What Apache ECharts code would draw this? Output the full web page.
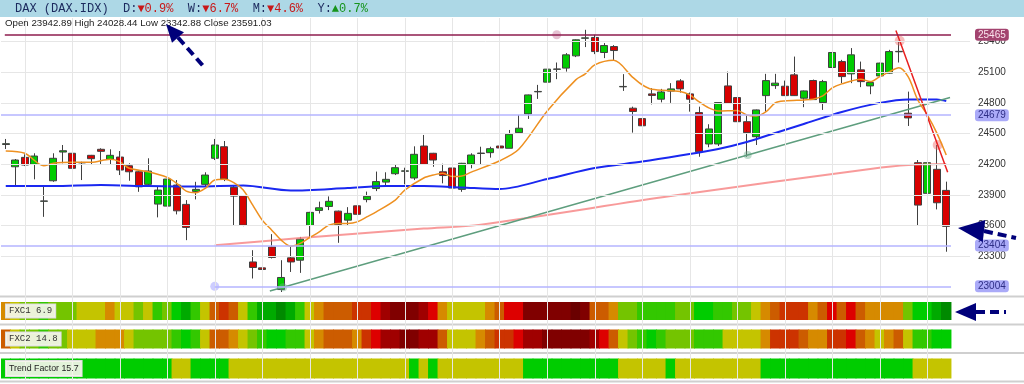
<!DOCTYPE html>
<html><head><meta charset="utf-8">
<script src="https://cdn.jsdelivr.net/npm/echarts@6/dist/echarts.min.js"></script>
<style>html,body{margin:0;padding:0;background:#fff}#c{width:1024px;height:384px}</style>
</head><body><div id="c"></div>
<script>
// ---------- DATA ----------
const opens = [24392,24174,24266,24198,23836,24037,24318,24306,24216,24286,24345,24247,24269,24184,24125,24002,23809,23789,23995,23806,
23933,24002,24257,24370,23973,23890,23243,23185,23390,22973,23283,23260,23600,23747,23786,23740,23652,23792,23853,23961,
24024,24106,24130,24064,24377,24306,24125,24162,23953,24201,24304,24312,24377,24355,24508,24691,24907,25002,25127,25139,
25259,25431,25439,25292,25350,24956,24747,24645,24887,24835,24914,25014,24887,24704,24397,24397,24965,24851,24615,24468,
24870,24968,24962,25073,24845,25018,24802,25145,25203,25083,25122,24965,25063,25090,25299,24698,24214,23914,24149,23942.89];
const closes = [24400,24240,24191,24279,23840,24257,24331,24159,24212,24253,24325,24286,24142,24125,23978,24132,23946,24054,23743,23581,
23953,24093,24387,24054,23887,23603,23189,23169,23287,23091,23243,23466,23728,23773,23836,23610,23718,23709,23885,24029,
24051,24165,24134,24296,24198,24240,24088,23966,24208,24289,24308,24351,24358,24492,24551,24877,24911,25129,25131,25269,
25416,25435,25301,25360,25311,24960,24715,24575,24872,24906,24936,24936,24835,24321,24544,24802,24796,24615,24508,24730,
25017,24992,24870,24870,24916,24831,25007,25292,25056,25269,25007,24998,25188,25301,25303,24652,23799,24214,23822,23591.03];
const lows = [24348,23995,24181,24051,23684,24027,24208,24135,24044,24191,24191,24191,24093,24037,23929,23978,23679,23743,23708,23456,
23855,23978,24240,24034,23603,23593,23081,23103,23277,22949,23145,23136,23488,23717,23750,23430,23603,23645,23826,23936,
23992,24093,24002,24044,24198,24174,24012,23963,23929,24159,24191,24263,24257,24355,24502,24642,24838,24992,25031,25105,
25247,25345,25276,25237,25213,24916,24508,24355,24784,24804,24799,24900,24713,24272,24365,24377,24794,24600,24272,24387,
24713,24936,24867,24866,24757,24828,24730,25105,24992,24992,24953,24884,25056,25086,25194,24573,23596,23809,23757,23342.88];
const highs = [24446,24250,24296,24306,23995,24306,24387,24316,24223,24290,24355,24345,24328,24208,24130,24257,23978,24110,24044,23848,
24027,24120,24446,24426,23995,23895,23358,23375,23515,23260,23390,23488,23733,23833,23884,23745,23779,23848,23931,24127,
24120,24198,24165,24374,24485,24310,24204,24181,24212,24306,24370,24370,24436,24534,24681,24880,24975,25132,25194,25286,
25420,25514,25465,25384,25364,25080,24762,24666,24943,24936,24992,25031,24900,24762,24590,24806,25105,24894,24681,24734,
25083,25083,25017,25252,24920,25027,25024,25335,25220,25335,25203,25002,25192,25318,25406,24909,24240,24247,24387,24028.44];

// moving averages: [candle index, value]
const maFast = [[0,24328],[2,24306],[4,24184],[5,24208],[7,24217],[9,24217],[11,24247],[12,24223],[13,24159],[15,24125],[17,24070],
[18,24012],[19,23936],[20,23920],[21,23963],[22,24044],[23,24051],[24,24018],[25,23946],[26,23799],[27,23652],[28,23554],[29,23456],
[30,23397],[31,23424],[32,23482],[33,23537],[34,23603],[35,23620],[36,23620],[37,23635],[38,23684],[39,23733],[41,23848],[42,23946],
[44,24064],[45,24093],[46,24110],[47,24078],[48,24083],[49,24122],[52,24233],[54,24345],[57,24720],[60,25024],[61,25083],[62,25171],
[64,25215],[66,25049],[67,24975],[68,24933],[71,24911],[72,24877],[73,24808],[74,24750],[75,24720],[77,24725],[78,24681],[79,24671],
[80,24710],[81,24799],[82,24818],[84,24828],[85,24835],[86,24867],[87,24946],[88,24985],[90,25031],[91,25007],[92,25056],[93,25102],
[94,25142],[95,25053],[96,24828],[97,24681],[98,24505],[99,24289]];
const maMid = [[0,23985],[5,23985],[10,23995],[15,23985],[20,23980],[25,23990],[30,23941],[36,23966],[40,23985],[44,23985],[48,23971],
[52,23956],[57,24054],[62,24162],[67,24225],[71,24284],[75,24348],[78,24416],[81,24505],[84,24593],[88,24710],[92,24799],[95,24833],
[98,24833],[99,24818]];
const maSlow = [[22,23407],[31,23476],[44,23569],[50,23608],[70,23887],[91,24152],[95,24191],[99,24201]];

// drawn trend lines (anchor points) and levels
const trendUp = [[27.8,22958],[29.2,22995],[78.1,24289],[99.4,24852]];
const trendUpAnchors = [[29.2,22995],[78.1,24289]];
const trendDown = [[93.7,25508],[94.1,25406],[98.1,24387],[99.15,24120]];
const trendDownAnchors = [[94.1,25406],[98.1,24387]];
const levelHigh = 25465, levelHighAnchor = 58;
const levelsBlue = [24679, 23404];
const levelLow = 23004, levelLowStart = 22;

const yTicks = [23300,23600,23900,24200,24500,24800,25100,25400];
const vGrid = [2,7,12,17,22,27,32,37,42,47,52,57,62,67,72,77,82,87,92,97];

// indicator strips (score per candle)
const fxc1 = [-1,0,1,1,2,1,1,1,0,0,0,-1,0,0,1,0,2,1,3,4,2,0,-2,-3,-2,0,2,4,4,5,4,2,0,-1,-2,-2,-2,-3,-3,-4,
-5,-6,-6,-6,-5,-4,-1,0,0,0,0,-1,-2,-4,-4,-6,-6,-6,-6,-6,-7,-6,-2,-2,-1,1,1,2,2,2,2,1,1,3,3,2,2,1,1,0,
-1,-2,-3,-3,-3,-1,-2,-4,-2,-4,-2,-1,-1,-1,-1,1,3,3,4,5];
const fxc2 = [-2,0,1,1,2,1,1,0,0,0,-1,-1,-1,0,1,1,1,1,2,3,2,0,-2,-2,-1,0,1,2,3,3,2,2,0,-1,-2,-2,-2,-1,-3,-4,
-5,-5,-6,-6,-5,-5,-2,0,0,0,-1,-2,-3,-3,-4,-5,-5,-6,-6,-6,-6,-6,-5,-4,-2,0,1,2,3,2,1,1,1,2,2,2,0,0,0,0,
-1,-3,-3,-3,-2,-1,-1,-3,-3,-4,-2,-1,0,-1,-2,0,2,2,3,3];
const trendFactor = [1,1,1,1,1,1,1,1,1,1,1,1,1,1,1,1,1,1,0,0,1,1,1,1,0,0,0,0,0,0,0,0,0,0,0,0,0,0,0,0,
0,0,0,1,0,1,0,0,0,0,0,0,0,0,0,1,1,1,1,1,1,1,1,1,1,0,0,0,0,0,1,0,0,0,0,0,0,0,0,0,
1,1,1,1,1,1,1,1,1,1,1,1,1,1,1,1,0,0,0,0];
const fxc1Last = 6.9, fxc2Last = 14.8, tfLast = 15.7;

const title = 'DAX (DAX.IDX)';
const changes = [['D', -0.9], ['W', -6.7], ['M', -4.6], ['Y', 0.7]];

// ---------- STYLE ----------
const NCAT = 102;
const categories = Array.from({length: NCAT}, (_, i) => 'D' + (i + 1));
const scoreColors = {'-7':'#6a0000','-6':'#800000','-5':'#a00000','-4':'#dd0000','-3':'#cc3300','-2':'#cc5c00',
  '-1':'#d68a00','0':'#c4c400','1':'#74c400','2':'#33c800','3':'#00cc00','4':'#00aa00','5':'#008a00'};
const tfColors = {'0':'#c4c400','1':'#00cc00'};
const GL = 1, GR = 54;
const gridColor = '#e6e6e6';

const candleData = opens.map((o, i) => [o, closes[i], lows[i], highs[i]]);
const n = candleData.length;

// strip k lives in grid k+2, xAxis k+3, yAxis k+2
function stripSeries(arr, k, colors) {
  return {
    type: 'bar', xAxisIndex: k + 3, yAxisIndex: k + 2, barWidth: 10.4, silent: true,
    data: arr.map(v => ({value: 1, itemStyle: {color: colors[String(v)]}})),
    itemStyle: {borderWidth: 0}
  };
}
function stripAxis(g) { return {gridIndex: g, type: 'category', data: categories, show: false, boundaryGap: true}; }

const lastI = n - 1;
const ohlcText = 'Open ' + opens[lastI].toFixed(2) + ' High ' + highs[lastI].toFixed(2) +
  ' Low ' + lows[lastI].toFixed(2) + ' Close ' + closes[lastI].toFixed(2);
let headRich = '{t|' + title + '}';
changes.forEach(([k, v]) => {
  headRich += '  {t|' + k + ':}' + (v < 0 ? '{r|▼' + Math.abs(v).toFixed(1) + '%}' : '{g|▲' + v.toFixed(1) + '%}');
});

const navy = '#00007a';
function arrow(tip, base, half, tailEnd) {
  const dx = tip[0] - base[0], dy = tip[1] - base[1];
  const L = Math.hypot(dx, dy), px = -dy / L * half, py = dx / L * half;
  return [
    {type: 'polygon', z: 200, shape: {points: [tip, [base[0] + px, base[1] + py], [base[0] - px, base[1] - py]]}, style: {fill: navy}},
    {type: 'line', z: 200, shape: {x1: base[0], y1: base[1], x2: tailEnd[0], y2: tailEnd[1]}, style: {stroke: navy, lineWidth: 4, lineDash: [9, 5]}}
  ];
}
function levelLabel(v, bg, fg) {
  return {show: true, position: 'end', distance: 24, formatter: String(v), color: fg, fontSize: 10,
    fontFamily: 'Liberation Sans', backgroundColor: bg, padding: [1, 3], borderRadius: 3};
}
const tagStyle = {verticalAlign: 'middle', fill: '#333', backgroundColor: 'rgba(245,245,235,0.92)', padding: [2, 3], borderColor: '#dcdcdc', borderWidth: 1};

const option = {
  animation: false,
  grid: [
    {left: GL, right: GR, top: 18, bottom: 3},
    {left: GL, right: GR, top: 21, height: 276},
    {left: GL, right: GR, top: 302, height: 18},
    {left: GL, right: GR, top: 329.5, height: 19},
    {left: GL, right: GR, top: 358.5, height: 20}
  ],
  xAxis: [
    {gridIndex: 0, type: 'value', min: -0.5, max: NCAT - 0.5, show: false},
    {gridIndex: 1, type: 'category', data: categories, show: false, boundaryGap: true},
    {gridIndex: 1, type: 'value', min: -0.5, max: NCAT - 0.5, show: false},
    stripAxis(2), stripAxis(3), stripAxis(4)
  ],
  yAxis: [
    {gridIndex: 0, type: 'value', min: 0, max: 1, show: false},
    {gridIndex: 1, type: 'value', position: 'right', min: 22900, max: 25600, interval: 100,
      axisLine: {show: false}, axisTick: {show: false}, splitLine: {show: false},
      axisLabel: {margin: 8, color: '#333', fontSize: 10, fontFamily: 'Liberation Sans',
        formatter: v => yTicks.indexOf(v) >= 0 ? String(v) : ''}},
    {gridIndex: 2, type: 'value', min: 0, max: 1, show: false},
    {gridIndex: 3, type: 'value', min: 0, max: 1, show: false},
    {gridIndex: 4, type: 'value', min: 0, max: 1, show: false}
  ],
  series: [
    {type: 'line', xAxisIndex: 0, yAxisIndex: 0, data: [[0, -1]], showSymbol: false, silent: true, lineStyle: {opacity: 0},
      markLine: {silent: true, symbol: ['none', 'none'], label: {show: false}, animation: false,
        lineStyle: {color: gridColor, width: 1, type: 'solid'}, data: vGrid.map(v => ({xAxis: v}))}},
    {type: 'line', xAxisIndex: 2, yAxisIndex: 1, data: [[0, 20000]], showSymbol: false, silent: true, lineStyle: {opacity: 0},
      markLine: {silent: true, symbol: ['none', 'none'], label: {show: false}, animation: false,
        lineStyle: {color: gridColor, width: 1, type: 'solid'}, data: yTicks.map(v => ({yAxis: v}))}},
    {type: 'line', xAxisIndex: 2, yAxisIndex: 1, data: maSlow, showSymbol: false, smooth: 0.3,
      lineStyle: {color: 'rgba(245,120,120,0.75)', width: 2}},
    {type: 'line', xAxisIndex: 2, yAxisIndex: 1, data: maMid, showSymbol: false, smooth: 0.3,
      lineStyle: {color: '#1a28f0', width: 2}},
    {type: 'line', xAxisIndex: 2, yAxisIndex: 1, data: trendUp, showSymbol: false,
      lineStyle: {color: '#5e9e7e', width: 1.5}},
    {type: 'candlestick', xAxisIndex: 1, yAxisIndex: 1, data: candleData, barWidth: 7.5,
      itemStyle: {color: '#00cc00', color0: '#d80000', borderColor: '#404040', borderColor0: '#404040', borderWidth: 1}},
    {type: 'line', xAxisIndex: 2, yAxisIndex: 1, data: maFast, showSymbol: false, smooth: 0.3,
      lineStyle: {color: '#ee9020', width: 1.5}},
    {type: 'line', xAxisIndex: 2, yAxisIndex: 1, data: trendDown, showSymbol: false,
      lineStyle: {color: '#e82020', width: 1.5}},
    {type: 'scatter', xAxisIndex: 2, yAxisIndex: 1, symbolSize: 8, silent: true,
      data: trendUpAnchors, itemStyle: {color: 'rgba(110,175,140,0.55)'}},
    {type: 'scatter', xAxisIndex: 2, yAxisIndex: 1, symbolSize: 10, silent: true,
      data: trendDownAnchors, itemStyle: {color: 'rgba(240,100,100,0.55)'}},
    {type: 'scatter', xAxisIndex: 2, yAxisIndex: 1, symbolSize: 9, silent: true,
      data: [[levelHighAnchor, levelHigh]], itemStyle: {color: 'rgba(190,100,140,0.5)'}},
    {type: 'scatter', xAxisIndex: 2, yAxisIndex: 1, symbolSize: 9, silent: true,
      data: [[levelLowStart, levelLow]], itemStyle: {color: 'rgba(150,150,255,0.6)'}},
    {type: 'line', xAxisIndex: 2, yAxisIndex: 1, data: [[0, 20000]], showSymbol: false, silent: true, lineStyle: {opacity: 0},
      markLine: {silent: true, symbol: ['none', 'none'], animation: false,
        data: [
          [{coord: [-0.1, levelHigh], lineStyle: {color: '#8e1c4e', width: 1.5, type: 'solid'},
            label: levelLabel(levelHigh, '#a3436f', '#fbe4ee')},
           {coord: [n - 0.5, levelHigh]}]
        ].concat(levelsBlue.map(v => [
          {coord: [-0.5, v], lineStyle: {color: '#b4b4ff', width: 1.5, type: 'solid'},
            label: levelLabel(v, '#aaaaf8', '#2e2e86')},
          {coord: [n - 0.5, v]}
        ])).concat([
          [{coord: [levelLowStart, levelLow], lineStyle: {color: '#b4b4ff', width: 1.5, type: 'solid'},
            label: levelLabel(levelLow, '#aaaaf8', '#2e2e86')},
           {coord: [n - 0.5, levelLow]}]
        ])}},
    stripSeries(fxc1, 0, scoreColors),
    stripSeries(fxc2, 1, scoreColors),
    stripSeries(trendFactor, 2, tfColors)
  ],
  graphic: [
    {type: 'rect', z: -10, shape: {x: 0, y: 0, width: 1024, height: 17}, style: {fill: '#add8e6'}},
    {type: 'text', z: 10, x: 15, y: 9, style: {text: headRich, verticalAlign: 'middle',
      font: '12px "Liberation Mono"', fill: '#1c2a5e',
      rich: {t: {fill: '#1c2a5e', font: '12px "Liberation Mono"'}, r: {fill: '#c81818', font: '12px "Liberation Mono"'},
             g: {fill: '#16941c', font: '12px "Liberation Mono"'}}}},
    {type: 'text', z: 10, x: 5, y: 23.5, style: {text: ohlcText, verticalAlign: 'middle',
      font: '9.7px "Liberation Sans"', fill: '#222'}},
    {type: 'rect', z: 5, shape: {x: 0, y: 295.5, width: 1024, height: 2}, style: {fill: '#cfcfcf'}},
    {type: 'rect', z: 5, shape: {x: 0, y: 323.5, width: 1024, height: 2}, style: {fill: '#cfcfcf'}},
    {type: 'rect', z: 5, shape: {x: 0, y: 352, width: 1024, height: 2}, style: {fill: '#cfcfcf'}},
    {type: 'rect', z: 5, shape: {x: 0, y: 380.5, width: 1024, height: 2}, style: {fill: '#cfcfcf'}},
    {type: 'text', z: 100, x: 6, y: 311, style: Object.assign({text: 'FXC1 ' + fxc1Last, font: '9px "Liberation Mono"'}, tagStyle)},
    {type: 'text', z: 100, x: 6, y: 339, style: Object.assign({text: 'FXC2 ' + fxc2Last, font: '9px "Liberation Mono"'}, tagStyle)},
    {type: 'text', z: 100, x: 6, y: 368.5, style: Object.assign({text: 'Trend Factor ' + tfLast, font: '8.8px "Liberation Sans"'}, tagStyle, {padding: [3, 3], fill: '#222'})}
  ].concat(arrow([166, 24], [178, 37.5], 8, [205, 68]))
   .concat(arrow([958, 228], [984, 231], 11, [1016, 238]))
   .concat(arrow([955, 312], [976, 312], 9, [1006, 312]))
};

const chart = echarts.init(document.getElementById('c'));
chart.setOption(option);
</script></body></html>
